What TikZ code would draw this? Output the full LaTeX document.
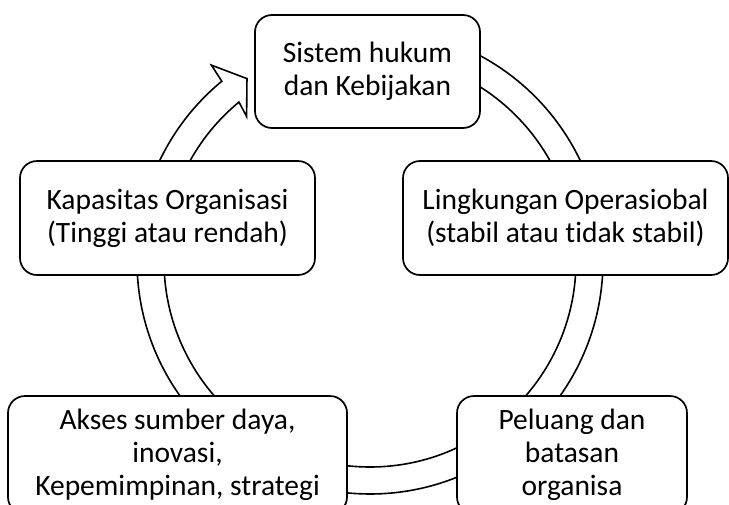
\documentclass[tikz,border=0pt]{standalone}
\usepackage{fontspec}
\setmainfont{Carlito}[Ligatures=NoCommon]
\usetikzlibrary{calc}
\begin{document}
\begin{tikzpicture}[x=1pt,y=1pt,
  box/.style={draw, line width=1.7pt, rounded corners=17pt, fill=white, align=center, inner sep=0pt, font=\fontsize{29.5}{33}\selectfont},
  ring/.style={draw, line width=1.6pt, fill=white, line join=miter}]
\useasboundingbox (0,0) rectangle (729,-504);
\coordinate (C) at (370,-261);
\path[ring] ($(C)+(129.5:233)$) arc[start angle=129.5, end angle=450, radius=233]
  -- ($(C)+(450:206)$) arc[start angle=450, end angle=129.5, radius=206]
  -- ($(C)+(130.5:190)$) -- ($(C)+(124:220)$) -- ($(C)+(129:252)$) -- cycle;
\node[box, minimum width=225pt, minimum height=113pt] (top) at (367.5,-71.5) {Sistem hukum\\dan Kebijakan};
\node[box, minimum width=325pt, minimum height=114pt] (right) at (565.5,-218) {Lingkungan Operasiobal\\(stabil atau tidak stabil)};
\node[box, minimum width=295pt, minimum height=114pt] (left) at (167.5,-218) {Kapasitas Organisasi\\(Tinggi atau rendah)};
\node[box, minimum width=339pt, minimum height=118pt] (bl) at (177.5,-455) {Akses sumber daya,\\inovasi,\\Kepemimpinan, strategi};
\node[box, minimum width=230pt, minimum height=118pt] (br) at (572,-455) {Peluang dan\\batasan\\organisa};
\end{tikzpicture}
\end{document}
